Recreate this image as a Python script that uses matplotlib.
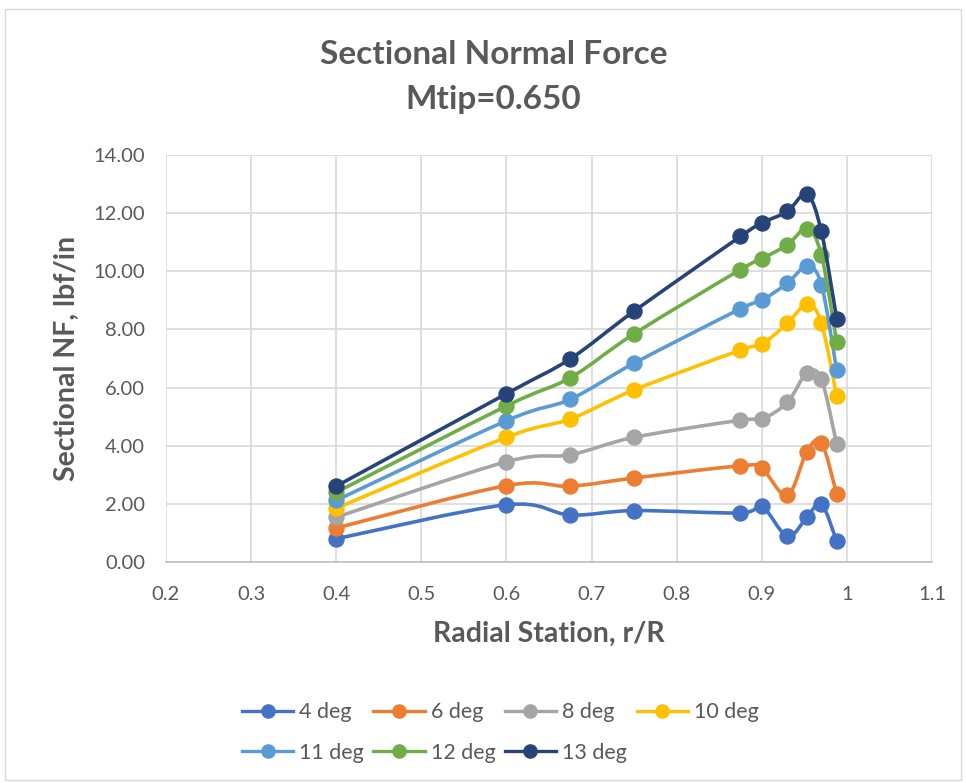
import matplotlib
matplotlib.use('Agg')
import matplotlib.pyplot as plt
from matplotlib.path import Path
from matplotlib.patches import PathPatch, Rectangle
from matplotlib.lines import Line2D
from matplotlib.ticker import FixedLocator, FuncFormatter
import numpy as np

plt.rcParams['font.family'] = ['Lato', 'DejaVu Sans']

# radial stations r/R
r_R = [0.4, 0.6, 0.675, 0.75, 0.875, 0.9, 0.93, 0.953, 0.97, 0.988]

# sectional normal force, lbf/in, per blade pitch
nf_4deg  = [0.80, 1.97, 1.62, 1.77, 1.69, 1.92, 0.89, 1.54, 2.00, 0.72]
nf_6deg  = [1.17, 2.63, 2.61, 2.89, 3.31, 3.22, 2.29, 3.80, 4.11, 2.34]
nf_8deg  = [1.54, 3.45, 3.69, 4.29, 4.88, 4.92, 5.49, 6.51, 6.29, 4.06]
nf_10deg = [1.85, 4.29, 4.92, 5.92, 7.29, 7.49, 8.21, 8.86, 8.23, 5.71]
nf_11deg = [2.12, 4.86, 5.60, 6.84, 8.71, 9.00, 9.59, 10.17, 9.54, 6.61]
nf_12deg = [2.40, 5.37, 6.34, 7.85, 10.06, 10.43, 10.91, 11.46, 10.57, 7.57]
nf_13deg = [2.61, 5.79, 6.99, 8.63, 11.20, 11.66, 12.06, 12.65, 11.37, 8.37]

labels = ['4 deg', '6 deg', '8 deg', '10 deg', '11 deg', '12 deg', '13 deg']
series = [nf_4deg, nf_6deg, nf_8deg, nf_10deg, nf_11deg, nf_12deg, nf_13deg]
colors = ['#4472C4', '#ED7D31', '#A5A5A5', '#FFC000', '#5B9BD5', '#70AD47', '#264478']

TEXT = '#595959'


def smooth_path(x, y):
    """Excel-style smoothed line: cubic Bezier through the points."""
    pts = np.column_stack([x, y])
    ext = np.vstack([pts[0], pts, pts[-1]])
    verts = [pts[0]]
    codes = [Path.MOVETO]
    for i in range(len(pts) - 1):
        p0, p1, p2, p3 = ext[i], ext[i + 1], ext[i + 2], ext[i + 3]
        c1 = p1 + (p2 - p0) / 6.0
        c2 = p2 - (p3 - p1) / 6.0
        verts += [c1, c2, p2]
        codes += [Path.CURVE4] * 3
    return Path(verts, codes)


fig = plt.figure(figsize=(9.66, 7.83), dpi=100)
fig.patches.append(Rectangle((0.005, 0.004), 0.99, 0.984, transform=fig.transFigure,
                             fill=False, edgecolor='#d9d9d9', linewidth=1.0))
ax = fig.add_axes([0.1718, 0.2822, 0.7930, 0.5198])

handles = []
for k, (vals, col, lab) in enumerate(zip(series, colors, labels)):
    patch = PathPatch(smooth_path(r_R, vals), facecolor='none', edgecolor=col,
                      linewidth=2.6, capstyle='round', joinstyle='round', zorder=3 + 2 * k)
    ax.add_patch(patch)
    ax.plot(r_R, vals, 'o', color=col, markersize=10.8, zorder=4 + 2 * k)
    handles.append(Line2D([], [], color=col, linewidth=2.4, marker='o', markersize=9.5))

ax.set_xlim(0.2, 1.1)
ax.set_ylim(0, 14)
ax.xaxis.set_major_locator(FixedLocator(np.arange(0.2, 1.15, 0.1)))
ax.yaxis.set_major_locator(FixedLocator(np.arange(0, 14.5, 2)))
ax.xaxis.set_major_formatter(FuncFormatter(lambda v, p: f'{v:.1f}'.rstrip('0').rstrip('.') if abs(v - 1) > 1e-6 else '1'))
ax.yaxis.set_major_formatter(FuncFormatter(lambda v, p: f'{v:.2f}'))
ax.grid(True, color='#d9d9d9', linewidth=1.2)
ax.set_axisbelow(True)
for s in ['top', 'right', 'left']:
    ax.spines[s].set_visible(False)
ax.spines['bottom'].set_color('#bfbfbf')
ax.spines['bottom'].set_linewidth(1.2)
ax.tick_params(length=0, labelsize=14.5, labelcolor=TEXT)
ax.tick_params(axis='x', pad=17)
ax.tick_params(axis='y', pad=15)

ax.set_xlabel('Radial Station, r/R', fontsize=20.5, fontweight='bold', color=TEXT, labelpad=13)
ax.set_ylabel('Sectional NF, lbf/in', fontsize=20.5, fontweight='bold', color=TEXT, labelpad=10)

fig.text(0.511, 0.930, 'Sectional Normal Force', ha='center', va='center',
         fontsize=24, fontweight='bold', color=TEXT)
fig.text(0.511, 0.873, 'Mtip=0.650', ha='center', va='center',
         fontsize=24, fontweight='bold', color=TEXT)

# row-major ordering for a 4-column legend
order = [0, 4, 1, 5, 2, 6, 3]
fig.legend([handles[i] for i in order], [labels[i] for i in order],
           loc='center left', bbox_to_anchor=(242 / 966, 1 - 732.5 / 783),
           bbox_transform=fig.transFigure, ncol=4, frameon=False,
           fontsize=15.5, labelcolor=TEXT, handlelength=2.37, handletextpad=0.28,
           columnspacing=0.45, labelspacing=0.95, borderpad=0, borderaxespad=0)

fig.savefig('out.png', dpi=100)
